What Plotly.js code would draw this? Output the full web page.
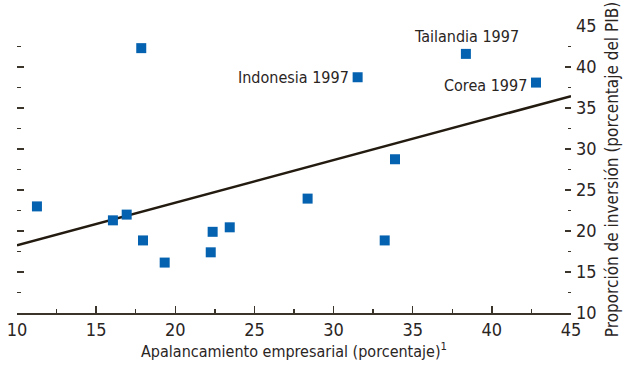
<!DOCTYPE html>
<html>
<head>
<meta charset="utf-8">
<script src="https://cdn.plot.ly/plotly-3.0.1.min.js"></script>
<style>
html,body{margin:0;padding:0;background:#fff;}
#chart{width:626px;height:367px;}
</style>
</head>
<body>
<div id="chart"></div>
<script>
// Apalancamiento empresarial (x, %) vs proporción de inversión (y, % del PIB)
const leverage = [11.26, 17.85, 16.06, 16.93, 17.96, 19.33, 22.24, 22.36, 23.44, 28.36, 31.52, 33.23, 33.88, 38.36, 42.79];
const investment = [23.0, 42.3, 21.3, 22.0, 18.85, 16.15, 17.4, 19.9, 20.45, 23.95, 38.75, 18.85, 28.75, 41.6, 38.1];
const pointLabels = ["", "", "", "", "", "", "", "", "", "", "Indonesia 1997", "", "", "Tailandia 1997", "Corea 1997"];

// Regression line endpoints
const fitX = [10, 45];
const fitY = [18.25, 36.45];

const xTicks = [10, 15, 20, 25, 30, 35, 40, 45];
const yTicks = [10, 15, 20, 25, 30, 35, 40, 45];

const FONT = '"Liberation Sans Narrow", "DejaVu Sans Condensed", "Roboto Condensed", Arial, sans-serif';
const TXT = '#2a251f';
const AX = '#3a342b';

const traces = [
  {
    x: fitX, y: fitY, mode: 'lines', type: 'scatter',
    line: {color: '#231b10', width: 2.5},
    hoverinfo: 'skip', showlegend: false
  },
  {
    x: leverage, y: investment, mode: 'markers', type: 'scatter',
    marker: {symbol: 'square', size: 10, color: '#0562b0'},
    showlegend: false
  },
  {
    x: fitX, y: fitY, mode: 'lines', type: 'scatter', yaxis: 'y2',
    line: {color: 'rgba(0,0,0,0)', width: 0},
    hoverinfo: 'skip', showlegend: false
  }
];

const annotations = [];
const shifts = {
  "Indonesia 1997": {xanchor: 'right', xshift: -7, yshift: 0},
  "Tailandia 1997": {xanchor: 'center', xshift: 1, yshift: 17},
  "Corea 1997": {xanchor: 'right', xshift: -7, yshift: -3}
};
pointLabels.forEach((t, i) => {
  if (!t) return;
  const s = shifts[t];
  annotations.push({
    x: leverage[i], y: investment[i], xref: 'x', yref: 'y',
    text: t, showarrow: false, xanchor: s.xanchor, yanchor: 'middle',
    xshift: s.xshift, yshift: s.yshift,
    font: {family: FONT, size: 16, color: TXT}
  });
});

const layout = {
  width: 626, height: 367,
  margin: {l: 17, r: 55, t: 26, b: 54, pad: 0},
  paper_bgcolor: '#fff', plot_bgcolor: '#fff',
  font: {family: FONT, color: TXT},
  showlegend: false,
  xaxis: {
    range: [10, 45], tickvals: xTicks, ticktext: xTicks.map(String),
    showgrid: false, zeroline: false,
    showline: true, linecolor: AX, linewidth: 1.5,
    ticks: 'inside', ticklen: 7, tickwidth: 1.5, tickcolor: AX,
    minor: {dtick: 2.5, tick0: 10, ticks: 'inside', ticklen: 4, tickwidth: 1.3, tickcolor: AX, showgrid: false},
    tickfont: {family: FONT, size: 18, color: TXT},
    title: {text: 'Apalancamiento empresarial (porcentaje)<sup>1</sup>', font: {family: FONT, size: 16, color: TXT}, standoff: 5},
    fixedrange: true
  },
  yaxis: {
    side: 'right', range: [10, 45], tickvals: yTicks, ticktext: yTicks.map(String),
    showgrid: false, zeroline: false, showline: false,
    ticks: 'inside', ticklen: 6, tickwidth: 1.5, tickcolor: AX,
    ticklabelstandoff: 4,
    minor: {dtick: 2.5, tick0: 10, ticks: 'inside', ticklen: 3, tickwidth: 1.3, tickcolor: AX, showgrid: false},
    tickfont: {family: FONT, size: 18, color: TXT},
    title: {text: 'Proporción de inversión (porcentaje del PIB)', font: {family: FONT, size: 17, color: TXT}, standoff: 10},
    fixedrange: true
  },
  yaxis2: {
    overlaying: 'y', side: 'left', range: [10, 45], tickvals: yTicks,
    showticklabels: false, showgrid: false, zeroline: false, showline: false,
    ticks: 'inside', ticklen: 7, tickwidth: 1.5, tickcolor: AX,
    minor: {dtick: 2.5, tick0: 10, ticks: 'inside', ticklen: 4, tickwidth: 1.3, tickcolor: AX, showgrid: false},
    fixedrange: true
  },
  annotations: annotations
};

Plotly.newPlot('chart', traces, layout, {displayModeBar: false, staticPlot: true});
</script>
</body>
</html>
